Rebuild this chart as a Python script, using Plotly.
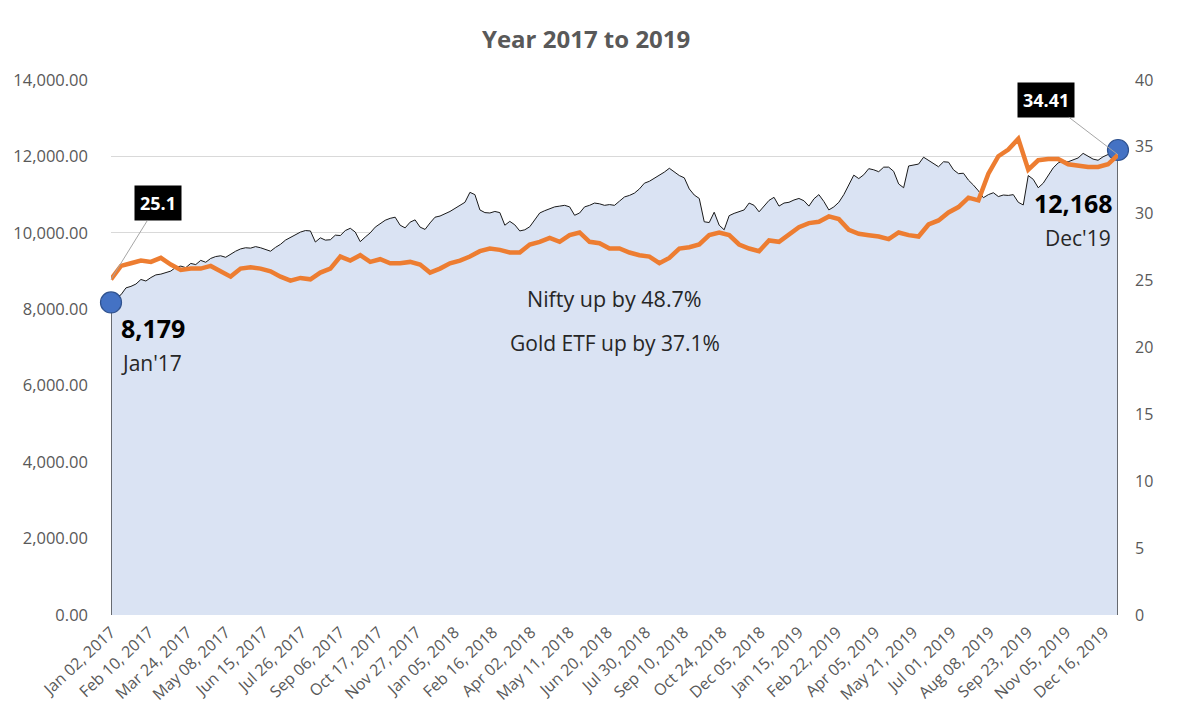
import numpy as np
import plotly.graph_objects as go

# ---- data ----
tick_labels = ["Jan 02, 2017", "Feb 10, 2017", "Mar 24, 2017", "May 08, 2017", "Jun 15, 2017",
               "Jul 26, 2017", "Sep 06, 2017", "Oct 17, 2017", "Nov 27, 2017", "Jan 05, 2018",
               "Feb 16, 2018", "Apr 02, 2018", "May 11, 2018", "Jun 20, 2018", "Jul 30, 2018",
               "Sep 10, 2018", "Oct 24, 2018", "Dec 05, 2018", "Jan 15, 2019", "Feb 22, 2019",
               "Apr 05, 2019", "May 21, 2019", "Jul 01, 2019", "Aug 08, 2019", "Sep 23, 2019",
               "Nov 05, 2019", "Dec 16, 2019"]

# Nifty 50 close, sampled roughly every 3-4 trading days
nifty = [8179, 8300, 8380, 8560, 8600, 8660, 8780, 8740, 8830, 8900,
         8920, 8960, 9000, 9100, 9130, 9090, 9200, 9170, 9280, 9230,
         9330, 9380, 9400, 9360, 9450, 9520, 9580, 9610, 9600, 9640,
         9610, 9560, 9520, 9620, 9700, 9810, 9880, 9950, 10020, 10060,
         10050, 9760, 9870, 9810, 9820, 9940, 9930, 10060, 10120, 10020,
         9770, 9890, 10000, 10150, 10250, 10330, 10380, 10410, 10200, 10130,
         10280, 10340, 10150, 10090, 10260, 10410, 10440, 10490, 10560, 10640,
         10720, 10800, 11060, 11000, 10600, 10530, 10520, 10560, 10530, 10200,
         10300, 10210, 10050, 10080, 10160, 10330, 10520, 10580, 10640, 10680,
         10700, 10720, 10680, 10460, 10520, 10680, 10720, 10780, 10760, 10720,
         10740, 10720, 10830, 10940, 10980, 11040, 11150, 11300, 11350, 11430,
         11500, 11590, 11690, 11600, 11500, 11440, 11150, 10990, 10900, 10290,
         10270, 10540, 10200, 10080, 10450, 10510, 10550, 10600, 10780, 10720,
         10550, 10700, 10850, 10930, 10700, 10780, 10800, 10860, 10900, 10840,
         10700, 10890, 11000, 10820, 10600, 10680, 10800, 11000, 11250, 11510,
         11420, 11520, 11680, 11650, 11600, 11720, 11720, 11610, 11280, 11180,
         11750, 11780, 11800, 11980, 11900, 11820, 11730, 11860, 11850, 11650,
         11550, 11560, 11380, 11250, 11100, 10920, 11000, 11050, 10950, 10990,
         10980, 11000, 10800, 10730, 11500, 11400, 11180, 11300, 11500, 11700,
         11830, 11880, 11860, 11920, 11960, 12080, 12000, 11930, 11900, 11990,
         12050, 12100, 12168]

# Gold ETF price, sampled roughly every 7 trading days
gold = [25.1, 26.1, 26.3, 26.5, 26.4, 26.7, 26.2, 25.8, 25.9, 25.9,
        26.1, 25.7, 25.3, 25.9, 26.0, 25.9, 25.7, 25.3, 25.0, 25.2,
        25.1, 25.6, 25.9, 26.8, 26.5, 26.9, 26.4, 26.6, 26.3, 26.3,
        26.4, 26.2, 25.6, 25.9, 26.3, 26.5, 26.8, 27.2, 27.4, 27.3,
        27.1, 27.1, 27.7, 27.9, 28.2, 27.9, 28.4, 28.6, 27.9, 27.8,
        27.4, 27.4, 27.1, 26.9, 26.8, 26.3, 26.7, 27.4, 27.5, 27.7,
        28.4, 28.6, 28.4, 27.7, 27.4, 27.2, 28.0, 27.9, 28.5, 29.0,
        29.3, 29.4, 29.8, 29.6, 28.8, 28.5, 28.4, 28.3, 28.1, 28.6,
        28.4, 28.3, 29.2, 29.5, 30.1, 30.5, 31.2, 31.0, 33.0, 34.3,
        34.8, 35.6, 33.3, 34.0, 34.1, 34.1, 33.7, 33.6, 33.5, 33.5,
        33.7, 34.41]

TRADING_DAYS = 738
LABEL_STEP = 28

x_n = np.linspace(0, TRADING_DAYS, len(nifty))
x_g = np.linspace(0, TRADING_DAYS, len(gold))
tickvals = [i * LABEL_STEP for i in range(len(tick_labels))]

FONT = "Open Sans"
GRAY = "#595959"

fig = go.Figure()

# Nifty area
fig.add_trace(go.Scatter(x=x_n, y=nifty, mode="lines", fill="tozeroy",
                         fillcolor="#dae3f3", line=dict(color="#1a1a1a", width=1),
                         hoverinfo="skip", showlegend=False))
# area side outlines
fig.add_trace(go.Scatter(x=[x_n[0], x_n[0]], y=[0, nifty[0]], mode="lines",
                         line=dict(color="#1a1a1a", width=1.2), showlegend=False, hoverinfo="skip"))
fig.add_trace(go.Scatter(x=[x_n[-1], x_n[-1]], y=[0, nifty[-1]], mode="lines",
                         line=dict(color="#1a1a1a", width=1.2), showlegend=False, hoverinfo="skip"))

# Gold ETF line
fig.add_trace(go.Scatter(x=x_g, y=gold, mode="lines", yaxis="y2",
                         line=dict(color="#ed7d31", width=4.5),
                         hoverinfo="skip", showlegend=False))

# end markers
fig.add_trace(go.Scatter(x=[x_n[0], x_n[-1]], y=[nifty[0], nifty[-1]], mode="markers",
                         marker=dict(size=21, color="#4472c4", line=dict(color="#2f528f", width=1.2)),
                         cliponaxis=False, showlegend=False, hoverinfo="skip"))

annotations = [
    dict(x=x_g[0], y=gold[0], xref="x", yref="y2", text="<b>25.1</b>",
         font=dict(family=FONT, size=18, color="white"), bgcolor="black", borderpad=5,
         showarrow=True, arrowhead=0, arrowcolor="#a6a6a6", arrowwidth=1, ax=47, ay=-76),
    dict(x=x_g[-1], y=gold[-1], xref="x", yref="y2", text="<b>34.41</b>",
         font=dict(family=FONT, size=18, color="white"), bgcolor="black", borderpad=5,
         showarrow=True, arrowhead=0, arrowcolor="#a6a6a6", arrowwidth=1, ax=-72, ay=-55),
    dict(x=x_n[0], y=nifty[0], xref="x", yref="y", text="<b>8,179</b>", showarrow=False,
         xanchor="left", yanchor="top", xshift=8, yshift=-7,
         font=dict(family=FONT, size=25, color="black")),
    dict(x=x_n[0], y=nifty[0], xref="x", yref="y", text="Jan'17", showarrow=False,
         xanchor="left", yanchor="top", xshift=8, yshift=-45,
         font=dict(family=FONT, size=21, color="#262626")),
    dict(x=x_n[-1], y=nifty[-1], xref="x", yref="y", text="<b>12,168</b>", showarrow=False,
         xanchor="right", yanchor="top", xshift=-3, yshift=-34,
         font=dict(family=FONT, size=25, color="black")),
    dict(x=x_n[-1], y=nifty[-1], xref="x", yref="y", text="Dec'19", showarrow=False,
         xanchor="right", yanchor="top", xshift=-5, yshift=-72,
         font=dict(family=FONT, size=21, color="#262626")),
    dict(x=0.50, y=0.5925, xref="paper", yref="paper", text="Nifty up by 48.7%", showarrow=False,
         xanchor="center", yanchor="middle", font=dict(family=FONT, size=21.5, color="#262626")),
    dict(x=0.50, y=0.508, xref="paper", yref="paper", text="Gold ETF up by 37.1%", showarrow=False,
         xanchor="center", yanchor="middle", font=dict(family=FONT, size=21, color="#262626")),
]

fig.update_layout(
    width=1192, height=710,
    paper_bgcolor="white", plot_bgcolor="white",
    margin=dict(l=103, r=82, t=72, b=103),
    title=dict(text="<b>Year 2017 to 2019</b>", x=0.485, xanchor="center", y=0.955, yanchor="middle",
               font=dict(family=FONT, size=24, color=GRAY)),
    xaxis=dict(range=[0, TRADING_DAYS], tickmode="array", tickvals=tickvals, ticktext=tick_labels,
               tickangle=-43, showgrid=False, zeroline=False, showline=False, ticks="",
               automargin=False, ticklabelstandoff=4,
               tickfont=dict(family=FONT, size=16, color=GRAY)),
    yaxis=dict(range=[0, 14000], dtick=2000, tickformat=",.2f", showgrid=True,
               gridcolor="#d9d9d9", gridwidth=1, zeroline=False, showline=False, ticks="",
               automargin=False,
               tickfont=dict(family=FONT, size=16.5, color=GRAY), ticklabelstandoff=22),
    yaxis2=dict(range=[0, 40], dtick=5, overlaying="y", side="right", showgrid=False,
                zeroline=False, showline=False, ticks="", automargin=False,
                tickfont=dict(family=FONT, size=16, color=GRAY), ticklabelstandoff=16),
    annotations=annotations,
    showlegend=False,
)

fig.write_html("out.html")
